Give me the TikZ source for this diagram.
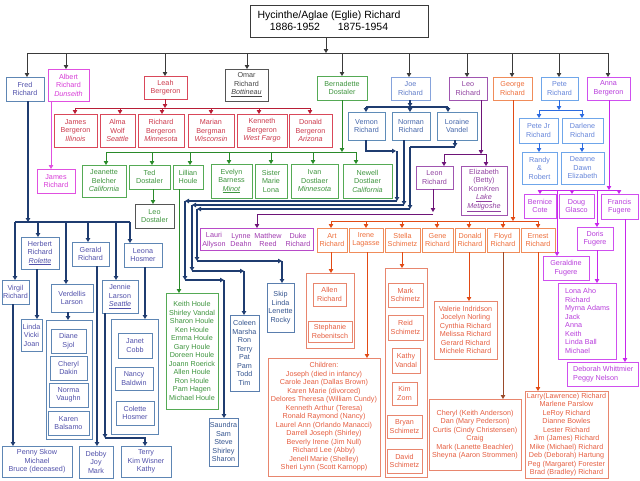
\documentclass[tikz,border=0pt]{standalone}
\usepackage{fontspec}
\setmainfont{Liberation Sans}
\usetikzlibrary{arrows.meta}
\definecolor{topC}{HTML}{3A3A3A}
\definecolor{fredB}{HTML}{5E86B4}\definecolor{fredT}{HTML}{5050AA}\definecolor{navC}{HTML}{1F3C70}
\definecolor{albB}{HTML}{E050E0}\definecolor{albT}{HTML}{D83CD8}
\definecolor{leahB}{HTML}{D9485A}\definecolor{leahT}{HTML}{CC3A4C}\definecolor{leahC}{HTML}{B81E36}
\definecolor{omarB}{HTML}{555555}\definecolor{omarT}{HTML}{444444}
\definecolor{grB}{HTML}{55AA55}\definecolor{grT}{HTML}{3E953E}\definecolor{grC}{HTML}{2A8A2A}
\definecolor{joeB}{HTML}{86A3DC}\definecolor{joeT}{HTML}{5F7BC8}
\definecolor{vnB}{HTML}{5F8CB8}\definecolor{vnT}{HTML}{4466AA}
\definecolor{navB}{HTML}{5A7EAE}\definecolor{navT}{HTML}{34548F}
\definecolor{purB}{HTML}{A055B0}\definecolor{purT}{HTML}{9040A0}\definecolor{purC}{HTML}{6E1478}
\definecolor{lauB}{HTML}{B84AC8}\definecolor{lauT}{HTML}{A03AB0}
\definecolor{orB}{HTML}{F08C5A}\definecolor{orT}{HTML}{EE6E3A}\definecolor{orC}{HTML}{E24A14}
\definecolor{ockB}{HTML}{E8866E}\definecolor{ockT}{HTML}{E65E40}\definecolor{flC}{HTML}{9A4A2A}
\definecolor{peteB}{HTML}{6FA6EA}\definecolor{peteT}{HTML}{6585DA}\definecolor{peteC}{HTML}{2C6BE0}
\definecolor{annaB}{HTML}{CF4FEF}\definecolor{annaT}{HTML}{B83CDC}\definecolor{annaC}{HTML}{C826EC}
\newcommand\mkbox[7]{\node[#6, minimum width={(#4-#2)*1pt}, minimum height={(#5-#3)*1pt}] (#1) at ({(#2+#4)/2},{(#3+#5)/2}) {#7};}
\begin{document}
\begin{tikzpicture}[x=1pt,y=-1pt, font=\fontsize{7.2}{8.5}\selectfont,
  bxs/.style={draw, inner sep=0pt, outer sep=0pt, align=center, line width=0.65pt, fill=white},
  fredb/.style={bxs, draw=fredB, text=fredT},
  albb/.style={bxs, draw=albB, text=albT},
  leahb/.style={bxs, draw=leahB, text=leahT},
  omarb/.style={bxs, draw=omarB, text=omarT},
  grb/.style={bxs, draw=grB, text=grT},
  joeb/.style={bxs, draw=joeB, text=joeT},
  vnb/.style={bxs, draw=vnB, text=vnT},
  navb/.style={bxs, draw=navB, text=navT},
  purb/.style={bxs, draw=purB, text=purT},
  laub/.style={bxs, draw=lauB, text=lauT},
  orb/.style={bxs, draw=orB, text=orT},
  ockb/.style={bxs, draw=ockB, text=ockT},
  peteb/.style={bxs, draw=peteB, text=peteT},
  annab/.style={bxs, draw=annaB, text=annaT},
  ar/.style={-{Triangle[length=4pt,width=4.5pt]}},
  topl/.style={line width=0.75pt, color=topC},
  fredl/.style={line width=1.1pt, color=navC},
  navl/.style={line width=1.3pt, color=navC},
  albl/.style={line width=0.8pt, color=albB},
  leahl/.style={line width=0.8pt, color=leahC},
  grl/.style={line width=0.8pt, color=grC},
  purl/.style={line width=0.8pt, color=purC},
  orl/.style={line width=0.8pt, color=orC},
  fll/.style={line width=0.8pt, color=flC},
  petel/.style={line width=0.8pt, color=peteC},
  annal/.style={line width=0.8pt, color=annaC},
  txt/.style={inner sep=0pt, align=center}]
\fill[white] (0,0) rectangle (640,480);
\useasboundingbox (0,0) rectangle (640,480);

% ---------- title ----------
\node[bxs, draw=topC, minimum width=178pt, minimum height=32pt] (title) at (339,21) {};
\node[txt, font=\fontsize{10.5}{12}\selectfont, text=black] (titletxt) at (329,21) {Hycinthe/Aglae (Eglie) Richard\\1886-1952\hspace{1.7em}1875-1954};

% ---------- generation 1 ----------
\mkbox{fred}{6}{77}{44}{101}{fredb}{Fred\\Richard}
\mkbox{albert}{48}{69}{89}{101}{albb}{Albert\\Richard\\\textit{Dunseith}}
\mkbox{leah}{144}{76}{187}{99}{leahb}{Leah\\Bergeron}
\mkbox{omar}{225}{69}{268}{101}{omarb}{Omar\\Richard\\\underline{\textit{Bottineau}}}
\mkbox{bern}{317}{76}{367}{100}{grb}{Bernadette\\Dostaler}
\mkbox{joe}{391}{77}{430}{100}{joeb}{Joe\\Richard}
\mkbox{leo}{449}{77}{487}{100}{purb}{Leo\\Richard}
\mkbox{george}{493}{77}{532}{100}{orb}{George\\Richard}
\mkbox{pete}{541}{77}{578}{100}{peteb}{Pete\\Richard}
\mkbox{anna}{587}{77}{630}{100}{annab}{Anna\\Bergeron}

% ---------- Leah's children ----------
\mkbox{jamesb}{54}{114}{97}{147}{leahb}{James\\Bergeron\\\textit{Illinois}}
\mkbox{alma}{100}{114}{135}{147}{leahb}{Alma\\Wolf\\\textit{Seattle}}
\mkbox{richb}{138}{114}{184}{147}{leahb}{Richard\\Bergeron\\\textit{Minnesota}}
\mkbox{marian}{188}{114}{234}{147}{leahb}{Marian\\Bergman\\\textit{Wisconsin}}
\mkbox{kenneth}{237}{114}{287}{147}{leahb}{Kenneth\\Bergeron\\\textit{West Fargo}}
\mkbox{donaldb}{289}{114}{332}{147}{leahb}{Donald\\Bergeron\\\textit{Arizona}}

% ---------- Bernadette's children ----------
\mkbox{jeanette}{82}{165}{126}{197}{grb}{Jeanette\\Belcher\\\textit{California}}
\mkbox{ted}{129}{165}{170}{189}{grb}{Ted\\Dostaler}
\mkbox{lillian}{173}{165}{203}{189}{grb}{Lillian\\Houle}
\mkbox{evelyn}{211}{164}{252}{198}{grb}{Evelyn\\Barness\\\underline{\textit{Minot}}}
\mkbox{sister}{255}{164}{287}{198}{grb}{Sister\\Marie\\Lona}
\mkbox{ivan}{291}{164}{338}{198}{grb}{Ivan\\Dostlaer\\\textit{Minnesota}}
\mkbox{newell}{343}{164}{392}{198}{grb}{Newell\\Dostlaer\\\textit{California}}
\mkbox{leod}{135}{204}{174}{228}{grb,draw=omarB}{Leo\\Dostaler}
\mkbox{keith}{166}{293}{218}{409}{grb}{Keith Houle\\Shirley Vandal\\Sharon Houle\\Ken Houle\\Emma Houle\\Gary Houle\\Doreen Houle\\Joann Roerick\\Allen Houle\\Ron Houle\\Pam Hagen\\Michael Houle}

% ---------- Joe's line ----------
\mkbox{vernon}{348}{112}{385}{140}{vnb}{Vernon\\Richard}
\mkbox{norman}{392}{112}{430}{140}{vnb}{Norman\\Richard}
\mkbox{loraine}{437}{112}{477}{140}{vnb}{Loraine\\Vandel}
\mkbox{coleen}{230}{315}{259}{391}{navb}{Coleen\\Marsha\\Ron\\Terry\\Pat\\Pam\\Todd\\Tim}
\mkbox{skip}{267}{283}{294}{332}{navb}{Skip\\Linda\\Lenette\\Rocky}
\mkbox{saundra}{209}{418}{238}{466}{navb}{Saundra\\Sam\\Steve\\Shirley\\Sharon}

% ---------- Leo's line ----------
\mkbox{leon}{416}{166}{453}{189}{purb}{Leon\\Richard}
\mkbox{eliz}{461}{166}{507}{215}{purb}{Elizabeth\\(Betty)\\KornKren\\\underline{\textit{Lake}}\\\underline{\textit{Metigoshe}}}
\mkbox{lauri}{200}{228}{313}{250}{laub}{}
\node[txt, text=lauT] (lauri1) at (214,240) {Lauri\\Allyson};
\node[txt, text=lauT] (lauri2) at (241,240) {Lynne\\Deahn};
\node[txt, text=lauT] (lauri3) at (268,240) {Matthew\\Reed};
\node[txt, text=lauT] (lauri4) at (298,240) {Duke\\Richard};

% ---------- George's line ----------
\mkbox{art}{317}{228}{347}{252}{orb}{Art\\Richard}
\mkbox{irene}{349}{228}{383}{252}{orb}{Irene\\Lagasse}
\mkbox{stella}{385}{228}{420}{252}{orb}{Stella\\Schimetz}
\mkbox{gene}{422}{228}{453}{252}{orb}{Gene\\Richard}
\mkbox{donald}{455}{228}{485}{252}{orb}{Donald\\Richard}
\mkbox{floyd}{487}{228}{519}{252}{orb}{Floyd\\Richard}
\mkbox{ernest}{521}{228}{555}{252}{orb}{Ernest\\Richard}
\mkbox{artk}{306}{273}{354}{348}{ockb}{}
\mkbox{allen}{313}{283}{346}{306}{ockb}{Allen\\Richard}
\mkbox{steph}{308}{321}{352}{342}{ockb}{Stephanie\\Rebenitsch}
\mkbox{irenek}{268}{358}{380}{476}{ockb}{Children:\\Joseph (died in infancy)\\Carole Jean (Dallas Brown)\\Karen Marie (divorced)\\Delores Theresa (William Cundy)\\Kenneth Arthur (Teresa)\\Ronald Raymond (Nancy)\\Laurel Ann (Orlando Manacci)\\Darrell Joseph (Shirley)\\Beverly Irene (Jim Null)\\Richard Lee (Abby)\\Jenell Marie (Shelley)\\Sheri Lynn (Scott Karnopp)}
\mkbox{stellak}{385}{268}{427}{477}{ockb}{}
\mkbox{mark}{388}{283}{423}{307}{ockb}{Mark\\Schimetz}
\mkbox{reid}{388}{315}{423}{340}{ockb}{Reid\\Schimetz}
\mkbox{kathy}{392}{348}{420}{373}{ockb}{Kathy\\Vandal}
\mkbox{kim}{392}{382}{417}{405}{ockb}{Kim\\Zorn}
\mkbox{bryan}{387}{415}{422}{438}{ockb}{Bryan\\Schimetz}
\mkbox{david}{387}{449}{422}{473}{ockb}{David\\Schimetz}
\mkbox{donaldk}{434}{301}{497}{359}{ockb}{Valerie Indridson\\Jocelyn Norling\\Cynthia Richard\\Melissa Richard\\Gerard Richard\\Michele Richard}
\mkbox{floydk}{429}{399}{521}{470}{ockb}{Cheryl (Keith Anderson)\\Dan (Mary Pederson)\\Curtis (Cindy Christensen)\\Craig\\Mark (Lanette Beachler)\\Sheyna (Aaron Strommen)}
\mkbox{ernestk}{525}{391}{608}{478}{ockb}{Larry(Lawrence) Richard\\Marlene Parslow\\LeRoy Richard\\Dianne Bowles\\Lester Richard\\Jim (James) Richard\\Mike (Michael) Richard\\Deb (Deborah) Hartung\\Peg (Margaret) Forester\\Brad (Bradley) Richard}

% ---------- Pete's line ----------
\mkbox{petejr}{519}{118}{558}{143}{peteb}{Pete Jr\\Richard}
\mkbox{darlene}{562}{118}{603}{143}{peteb}{Darlene\\Richard}
\mkbox{randy}{522}{152}{557}{184}{peteb}{Randy\\\&\\Robert}
\mkbox{deanne}{561}{152}{604}{184}{peteb}{Deanne\\Dawn\\Elizabeth}

% ---------- Anna's line ----------
\mkbox{bernice}{524}{194}{556}{218}{annab}{Bernice\\Cote}
\mkbox{doug}{559}{194}{594}{218}{annab}{Doug\\Glasco}
\mkbox{francis}{601}{194}{638}{219}{annab}{Francis\\Fugere}
\mkbox{doris}{577}{227}{613}{250}{annab}{Doris\\Fugere}
\mkbox{geraldine}{543}{256}{589}{280}{annab}{Geraldine\\Fugere}
\mkbox{lona}{558}{283}{616}{359}{annab}{}
\node[inner sep=0pt, align=left, anchor=west, text=annaT] (lonatxt) at (565,321) {Lona Aho\\Richard\\Myrna Adams\\Jack\\Anna\\Keith\\Linda Ball\\Michael};
\mkbox{deborah}{567}{362}{638}{386}{annab}{}
\node[inner sep=0pt, align=left, anchor=west, text=annaT] (debtxt) at (573,374) {Deborah Whittmier\\Peggy Nelson};

% ---------- Fred's line ----------
\mkbox{jamesr}{37}{169}{75}{193}{albb}{James\\Richard}
\mkbox{virgil}{2}{280}{29}{304}{fredb}{Virgil\\Richard}
\mkbox{herbert}{21}{237}{59}{269}{fredb}{Herbert\\Richard\\\underline{\textit{Rolette}}}
\mkbox{verdellis}{51}{284}{93}{312}{fredb}{Verdellis\\Larson}
\mkbox{gerald}{72}{242}{109}{266}{fredb}{Gerald\\Richard}
\mkbox{jennie}{102}{280}{138}{313}{fredb}{Jennie\\Larson\\\underline{\textit{Seattle}}}
\mkbox{leona}{124}{243}{162}{267}{fredb}{Leona\\Hosmer}
\mkbox{lvj}{21}{319}{42}{351}{fredb}{Linda\\Vicki\\Joan}
\mkbox{verdk}{46}{320}{92}{439}{fredb}{}
\mkbox{diane}{51}{329}{86}{353}{fredb}{Diane\\Sjol}
\mkbox{cheryl}{50}{356}{87}{380}{fredb}{Cheryl\\Dakin}
\mkbox{norma}{49}{383}{88}{407}{fredb}{Norma\\Vaughn}
\mkbox{karen}{48}{411}{89}{435}{fredb}{Karen\\Balsamo}
\mkbox{penny}{2}{446}{72}{477}{fredb}{Penny Skow\\Michael\\Bruce (deceased)}
\mkbox{debby}{79}{446}{113}{478}{fredb}{Debby\\Joy\\Mark}
\mkbox{leonak}{111}{319}{158}{434}{fredb}{}
\mkbox{janet}{118}{333}{152}{358}{fredb}{Janet\\Cobb}
\mkbox{nancy}{115}{367}{153}{390}{fredb}{Nancy\\Baldwin}
\mkbox{colette}{116}{401}{154}{425}{fredb}{Colette\\Hosmer}
\mkbox{terry}{121}{446}{171}{477}{fredb}{Terry\\Kim Wisner\\Kathy}

% =============== connectors ===============
\coordinate (busL) at (27,53);
\coordinate (busR) at (608,53);
\draw[topl] (busL) -- (busR);
\draw[topl,ar] (326,0 |- title.south) -- (326,53);
\foreach \nm/\xx in {fred/27, albert/66, leah/165, omar/247, bern/342, joe/409, leo/467, george/512, pete/559, anna/608}
  \draw[topl,ar] (\xx,53) -- (\xx,0 |- \nm.north);

% Leah
\draw[leahl,ar] (165,0 |- leah.south) -- (165,108);
\draw[leahl] (75,108) -- (310,108);
\foreach \nm/\xx in {jamesb/75, alma/120, richb/162, marian/211, kenneth/259, donaldb/310}
  \draw[leahl,ar] (\xx,108) -- (\xx,0 |- \nm.north);

% Bernadette
\draw[grl,ar] (342,0 |- bern.south) -- (342,152);
\draw[grl] (106,152) -- (356,152);
\foreach \nm/\xx in {jeanette/106, ted/152, lillian/190, evelyn/229, sister/271, ivan/313, newell/356}
  \draw[grl,ar] (\xx,152) -- (\xx,0 |- \nm.north);
\draw[grl,ar] (153,0 |- ted.south) -- (153,0 |- leod.north);
\draw[grl,ar] (179,0 |- lillian.south) -- (179,0 |- keith.north);

% Joe
\draw[navl,ar] (410,0 |- joe.south) -- (410,107);
\draw[navl] (366,107) -- (448,107);
\foreach \nm/\xx in {vernon/366, norman/410, loraine/448}
  \draw[navl,ar] (\xx,107) -- (\xx,0 |- \nm.north);
% Vernon -> Saundra
\draw[navl,ar] (366,0 |- vernon.south) -- (366,151) -- (396,151);
\draw[navl,ar] (397,151) -- (397,201);
\draw[navl,ar] (397,201) -- (185,201);
\draw[navl,ar] (185,201) -- (185,280);
\draw[navl,ar] (185,280) -- (224,280);
\draw[navl,ar] (224,280) -- (224,0 |- saundra.north);
% Norman -> Coleen
\draw[navl,ar] (404,0 |- norman.south) -- (404,205);
\draw[navl,ar] (404,205) -- (192,205);
\draw[navl,ar] (192,205) -- (192,271);
\draw[navl,ar] (192,271) -- (244,271);
\draw[navl,ar] (244,271) -- (244,0 |- coleen.north);
% Loraine -> Skip
\draw[navl,ar] (455,0 |- loraine.south) -- (455,147);
\draw[navl] (455,147) -- (410,147);
\draw[navl,ar] (410,147) -- (410,209);
\draw[navl,ar] (410,209) -- (197,209);
\draw[navl,ar] (197,209) -- (197,261);
\draw[navl,ar] (197,261) -- (282,261);
\draw[navl,ar] (282,261) -- (282,0 |- skip.north);

% Leo
\draw[purl,ar] (481,0 |- leo.south) -- (481,154);
\draw[purl] (444,154) -- (486,154);
\draw[purl,ar] (444,154) -- (444,0 |- leon.north);
\draw[purl,ar] (486,154) -- (486,0 |- eliz.north);
\draw[purl,ar] (433,0 |- leon.south) -- (433,212);
\draw[purl] (433,214) -- (257,214);
\draw[purl,ar] (257,214) -- (257,0 |- lauri.north);

% George
\draw[orl,ar] (513,0 |- george.south) -- (513,221);
\draw[orl] (331,221) -- (538,221);
\foreach \nm/\xx in {art/331, irene/366, stella/402, gene/437, donald/469, floyd/503, ernest/538}
  \draw[orl,ar] (\xx,221) -- (\xx,0 |- \nm.north);
\draw[orl,ar] (331,0 |- art.south) -- (331,0 |- artk.north);
\draw[orl,ar] (367,0 |- irene.south) -- (367,0 |- irenek.north);
\draw[orl,ar] (402,0 |- stella.south) -- (402,0 |- stellak.north);
\draw[orl,ar] (469,0 |- donald.south) -- (469,0 |- donaldk.north);
\draw[fll,ar] (503,0 |- floyd.south) -- (503,0 |- floydk.north);
\draw[orl,ar] (538,0 |- ernest.south) -- (538,0 |- ernestk.north);

% Pete
\draw[petel,ar] (559,0 |- pete.south) -- (559,110);
\draw[petel] (539,110) -- (582,110);
\draw[petel,ar] (539,110) -- (539,0 |- petejr.north);
\draw[petel,ar] (582,110) -- (582,0 |- darlene.north);
\draw[petel,ar] (539,0 |- petejr.south) -- (539,0 |- randy.north);
\draw[petel,ar] (582,0 |- darlene.south) -- (582,0 |- deanne.north);

% Anna
\draw[annal,ar] (609,0 |- anna.south) -- (609,190);
\draw[annal] (540,190) -- (619,190);
\draw[annal,ar] (540,190) -- (540,0 |- bernice.north);
\draw[annal,ar] (572,190) -- (572,0 |- doug.north);
\draw[annal,ar] (619,190) -- (619,0 |- francis.north);
\draw[annal,ar] (597,190) -- (597,0 |- doris.north);
\draw[annal,ar] (557,190) -- (557,0 |- geraldine.north);
\draw[annal,ar] (597,0 |- doris.south) -- (597,0 |- lona.north);
\draw[annal,ar] (625,0 |- francis.south) -- (625,0 |- deborah.north);

% Albert
\draw[albl,ar] (51,0 |- albert.south) -- (51,0 |- jamesr.north);

% Fred
\draw[fredl,ar] (28,0 |- fred.south) -- (28,222);
\draw[fredl] (15,222) -- (130,222);
\foreach \nm/\xx in {virgil/15, herbert/38, verdellis/66, gerald/88, jennie/116, leona/130}
  \draw[fredl,ar] (\xx,222) -- (\xx,0 |- \nm.north);
\draw[fredl,ar] (37,0 |- herbert.south) -- (37,0 |- lvj.north);
\draw[fredl,ar] (68,0 |- verdellis.south) -- (68,0 |- verdk.north);
\draw[fredl,ar] (13,0 |- virgil.south) -- (13,0 |- penny.north);
\draw[fredl,ar] (97,0 |- gerald.south) -- (97,0 |- debby.north);
\draw[fredl,ar] (145,0 |- leona.south) -- (145,0 |- leonak.north);
\draw[fredl,ar] (105,0 |- jennie.south) -- (105,438);
\draw[fredl,ar] (105,438) -- (145,438) -- (145,0 |- terry.north);
\end{tikzpicture}
\end{document}
